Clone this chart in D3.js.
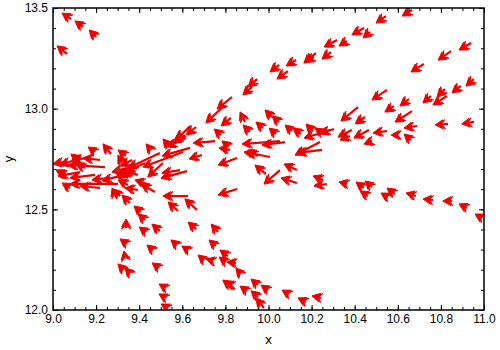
<!DOCTYPE html>
<html lang="en">
<head>
<meta charset="UTF-8">
<title>Vector field</title>
<script src="https://d3js.org/d3.v7.min.js"></script>
<style>
  body { margin: 0; background: #fff; }
  svg { display: block; font-family: "DejaVu Sans", sans-serif; }
  .tick text { font-size: 12px; fill: #000; }
  .tick line { stroke: #000; }
</style>
</head>
<body>
<svg id="chart" width="500" height="350"></svg>
<script>
// arrow tails (data units) and their components
const tailX = [
  9.084, 9.139, 9.200, 9.065, 9.831, 9.793, 9.923, 9.947, 10.049, 10.090,
  10.128, 10.220, 10.211, 10.290, 10.318, 10.364, 10.443, 10.471, 10.545, 10.666,
  10.721, 10.847, 10.940, 10.550, 10.582, 10.652, 10.754, 10.828, 10.819, 10.893,
  10.953, 10.415, 10.448, 10.666, 10.689, 10.661, 10.601, 10.833, 10.953,
  9.891, 9.914, 9.974, 10.016, 10.049, 10.035, 10.109, 10.151, 10.206, 10.304,
  10.285, 10.248, 10.387, 10.378, 10.466, 10.480, 10.550,
  10.053, 10.076, 10.007, 9.951, 10.239, 10.248, 9.988, 10.053, 10.132, 10.132,
  10.253, 10.271, 10.364, 10.443, 10.462, 10.480, 10.554, 10.587, 10.684, 10.763,
  10.851, 10.921, 10.991,
  9.951, 9.998, 9.951, 9.979, 10.095, 10.174, 10.244,
  9.626, 9.854, 9.580, 9.668, 9.357, 9.408, 9.427, 9.339, 9.432, 9.496,
  9.664, 9.766, 9.343, 9.464, 9.575, 9.626, 9.756, 9.701, 9.742, 9.812,
  9.803, 9.849, 9.872, 9.334, 9.329, 9.357, 9.492, 9.844, 9.831, 9.900,
  9.524, 9.524, 9.534,
  9.269, 9.195, 9.111, 9.046, 9.538, 9.455, 9.339, 9.510, 9.589,
  9.752, 9.636, 9.603, 9.622, 9.691, 9.821, 9.812, 9.854, 9.473, 9.826,
  9.780, 9.636, 9.612, 9.617, 9.664, 9.311,
  9.102, 9.162, 9.218, 9.241, 9.125, 9.195, 9.302, 9.264, 9.148, 9.218,
  9.311, 9.357, 9.394, 9.367, 9.427, 9.496, 9.348, 9.394, 9.288, 9.334,
  9.450, 9.320, 9.079, 9.056, 9.380, 9.348
];
const tailY = [
  13.445, 13.406, 13.356, 13.272, 13.058, 13.013, 13.108, 13.147, 13.217, 13.187,
  13.242, 13.276, 13.257, 13.281, 13.341, 13.336, 13.401, 13.381, 13.460, 13.490,
  13.222, 13.286, 13.326, 13.093, 13.013, 13.048, 13.063, 13.063, 13.098, 13.113,
  13.147, 13.008, 12.959, 12.988, 12.914, 12.844, 12.869, 12.924, 12.934,
  12.934, 12.884, 12.904, 12.959, 12.934, 12.874, 12.889, 12.874, 12.889, 12.899,
  12.894, 12.879, 12.894, 12.864, 12.894, 12.839, 12.889,
  12.839, 12.834, 12.760, 12.765, 12.834, 12.795, 12.675, 12.695, 12.631, 12.695,
  12.646, 12.626, 12.626, 12.606, 12.566, 12.611, 12.561, 12.576, 12.566, 12.546,
  12.541, 12.507, 12.457,
  12.124, 12.099, 12.065, 12.010, 12.079, 12.040, 12.060,
  12.566, 12.601, 12.492, 12.497, 12.531, 12.487, 12.447, 12.407, 12.387, 12.392,
  12.402, 12.387, 12.328, 12.298, 12.323, 12.298, 12.318, 12.248, 12.243, 12.268,
  12.238, 12.233, 12.179, 12.268, 12.199, 12.184, 12.209, 12.104, 12.124, 12.094,
  12.109, 12.060, 12.010,
  12.775, 12.785, 12.750, 12.735, 12.815, 12.795, 12.765, 12.730, 12.695,
  12.839, 12.805, 12.785, 12.690, 12.770, 12.795, 12.815, 12.755, 12.586, 12.954,
  12.869, 12.914, 12.869, 12.854, 12.909, 12.566,
  12.745, 12.755, 12.745, 12.710, 12.685, 12.671, 12.626, 12.656, 12.705, 12.606,
  12.666, 12.705, 12.671, 12.745, 12.730, 12.780, 12.621, 12.596, 12.571, 12.656,
  12.621, 12.735, 12.606, 12.671, 12.695, 12.656
];
const velU = [
  -0.042, -0.037, -0.032, -0.046, -0.070, -0.084, -0.042, -0.042, -0.042, -0.051,
  -0.046, -0.056, -0.042, -0.042, -0.060, -0.037, -0.056, -0.032, -0.046, -0.046,
  -0.060, -0.060, -0.056, -0.070, -0.042, -0.042, -0.037, -0.065, -0.037, -0.042,
  -0.037, -0.079, -0.046, -0.079, -0.060, -0.032, -0.032, -0.060, -0.056,
  -0.023, -0.032, -0.032, -0.032, -0.032, -0.032, -0.032, -0.037, -0.032, -0.139,
  -0.046, -0.032, -0.065, -0.046, -0.070, -0.037, -0.065,
  -0.176, -0.107, -0.121, -0.046, -0.116, -0.116, -0.051, -0.074, -0.074, -0.060,
  -0.046, -0.060, -0.037, -0.037, -0.037, -0.032, -0.032, -0.037, -0.046, -0.046,
  -0.042, -0.037, -0.032,
  -0.032, -0.032, -0.032, -0.037, -0.032, -0.037, -0.042,
  -0.116, -0.088, -0.046, -0.056, -0.037, -0.032, -0.032, 0.000, -0.032, -0.037,
  -0.037, -0.032, -0.032, -0.028, -0.028, -0.028, -0.032, -0.028, -0.032, -0.037,
  -0.032, -0.042, -0.023, -0.005, -0.028, -0.023, -0.032, -0.056, -0.032, -0.032,
  -0.032, -0.032, -0.032,
  -0.037, -0.032, -0.028, -0.046, -0.028, -0.023, -0.037, -0.070, -0.084,
  -0.102, -0.130, -0.186, -0.121, -0.060, -0.051, -0.028, -0.088, -0.065, -0.046,
  -0.032, -0.065, -0.056, -0.088, -0.046, -0.032,
  -0.070, -0.074, -0.079, -0.172, -0.102, -0.116, -0.223, -0.084, -0.042, -0.093,
  -0.084, -0.084, -0.093, -0.056, -0.093, -0.148, -0.046, -0.060, -0.014, -0.046,
  -0.070, -0.019, -0.037, -0.042, -0.060, -0.056
];
const velV = [
  0.030, 0.030, 0.035, 0.040, -0.060, -0.084, -0.040, -0.040, -0.035, -0.040,
  -0.030, -0.050, -0.025, -0.035, -0.035, -0.025, -0.035, -0.030, -0.035, -0.030,
  -0.040, -0.045, -0.035, -0.050, -0.030, -0.035, -0.035, -0.045, -0.040, -0.035,
  -0.035, -0.070, -0.035, -0.055, -0.010, 0.030, 0.000, -0.005, -0.010,
  0.050, 0.035, 0.030, 0.035, 0.030, 0.030, 0.030, 0.030, 0.035, -0.045,
  -0.020, 0.025, -0.035, -0.020, -0.040, -0.015, -0.010,
  -0.015, -0.015, 0.025, 0.030, -0.065, -0.015, 0.045, -0.070, 0.025, 0.030,
  0.020, -0.010, 0.010, 0.030, 0.025, 0.030, 0.020, 0.030, 0.015, 0.005,
  0.000, 0.020, 0.020,
  0.030, 0.025, 0.030, 0.050, 0.020, 0.020, 0.010,
  0.000, -0.030, 0.045, 0.055, 0.040, 0.030, 0.030, 0.045, 0.025, 0.035,
  0.035, 0.040, 0.025, 0.025, 0.025, 0.020, 0.030, 0.025, 0.010, 0.030,
  0.025, 0.005, 0.030, 0.025, 0.030, 0.025, 0.025, 0.045, 0.010, 0.025,
  0.020, 0.020, 0.020,
  0.050, 0.025, 0.025, -0.010, 0.035, 0.030, 0.030, -0.070, -0.015,
  -0.010, -0.040, -0.075, -0.035, -0.020, 0.010, 0.025, -0.035, 0.040, -0.040,
  0.030, -0.070, -0.040, -0.045, -0.040, 0.035,
  -0.025, -0.010, 0.010, 0.010, -0.020, -0.015, 0.000, -0.010, 0.025, 0.010,
  -0.025, -0.020, 0.025, -0.030, -0.045, -0.075, 0.025, 0.010, 0.035, 0.040,
  0.025, 0.035, 0.025, 0.025, -0.030, 0.030
];

const xDomain = [9, 11];
const yDomain = [12, 13.5];
const xMajor = d3.range(9, 11.001, 0.2);
const xMinor = d3.range(9, 11.001, 0.05);
const yMajor = [12, 12.5, 13, 13.5];
const yMinor = d3.range(12, 13.501, 0.1);

const margin = {top: 8, right: 16, bottom: 40, left: 53};
const width = 500, height = 350;
const svg = d3.select("#chart");

const x = d3.scaleLinear().domain(xDomain).range([margin.left, width - margin.right]);
const y = d3.scaleLinear().domain(yDomain).range([height - margin.bottom, margin.top]);

svg.append("defs").append("clipPath").attr("id", "plotclip")
  .append("rect")
  .attr("x", x(9)).attr("y", y(13.5))
  .attr("width", x(11) - x(9)).attr("height", y(12) - y(13.5));

// arrows: shaft plus a double barbed head
const arrows = tailX.map((tx, i) => ({x: tx, y: tailY[i], u: velU[i], v: velV[i]}));
const col = "#ee0000";
const g = svg.append("g").attr("clip-path", "url(#plotclip)");

function headPath(hx, hy, ca, sa, L, W) {
  const bx = hx - L * ca, by = hy - L * sa;
  const mx = hx - 0.5 * L * ca, my = hy - 0.5 * L * sa;
  return `M${hx},${hy}L${bx - W * sa},${by + W * ca}L${mx},${my}L${bx + W * sa},${by - W * ca}Z`;
}

arrows.forEach(d => {
  const x0 = x(d.x), y0 = y(d.y);
  const x1 = x(d.x + d.u), y1 = y(d.y + d.v);
  const a = Math.atan2(y1 - y0, x1 - x0);
  const ca = Math.cos(a), sa = Math.sin(a);
  g.append("line")
    .attr("x1", x0).attr("y1", y0)
    .attr("x2", x1 - 3 * ca).attr("y2", y1 - 3 * sa)
    .attr("stroke", col).attr("stroke-width", 2.2);
  g.append("path")
    .attr("d", headPath(x1, y1, ca, sa, 8, 4.5) + headPath(x1 - 3 * ca, y1 - 3 * sa, ca, sa, 7, 4.5))
    .attr("fill", col).attr("stroke", col).attr("stroke-width", 1)
    .attr("stroke-linejoin", "miter");
});

// axes, ticks pointing inward
const fmt = d3.format(".1f");
function addAxis(axisFn, scale, vals, size, tr, labels, pad) {
  const ax = axisFn(scale).tickValues(vals).tickSize(-size).tickPadding(pad || 4)
    .tickFormat(labels ? fmt : "");
  const gg = svg.append("g").attr("transform", tr).call(ax);
  gg.select(".domain").remove();
  return gg;
}
const trBot = `translate(0,${y(12)})`, trTop = `translate(0,${y(13.5)})`;
const trLeft = `translate(${x(9)},0)`, trRight = `translate(${x(11)},0)`;

addAxis(d3.axisBottom, x, xMinor, 3, trBot, false);
addAxis(d3.axisBottom, x, xMajor, 5, trBot, true, 4);
addAxis(d3.axisTop, x, xMinor, 3, trTop, false);
addAxis(d3.axisTop, x, xMajor, 5, trTop, false);
addAxis(d3.axisLeft, y, yMinor, 3, trLeft, false);
addAxis(d3.axisLeft, y, yMajor, 5, trLeft, true, 5);
addAxis(d3.axisRight, y, yMinor, 3, trRight, false);
addAxis(d3.axisRight, y, yMajor, 5, trRight, false);

svg.append("rect")
  .attr("x", x(9)).attr("y", y(13.5))
  .attr("width", x(11) - x(9)).attr("height", y(12) - y(13.5))
  .attr("fill", "none").attr("stroke", "#000").attr("stroke-width", 1.5);

svg.append("text")
  .attr("x", (x(9) + x(11)) / 2).attr("y", 344)
  .attr("text-anchor", "middle").attr("font-size", 12)
  .text("x");

svg.append("text")
  .attr("transform", `translate(13,${(y(12) + y(13.5)) / 2}) rotate(-90)`)
  .attr("text-anchor", "middle").attr("font-size", 12)
  .text("y");
</script>
</body>
</html>
